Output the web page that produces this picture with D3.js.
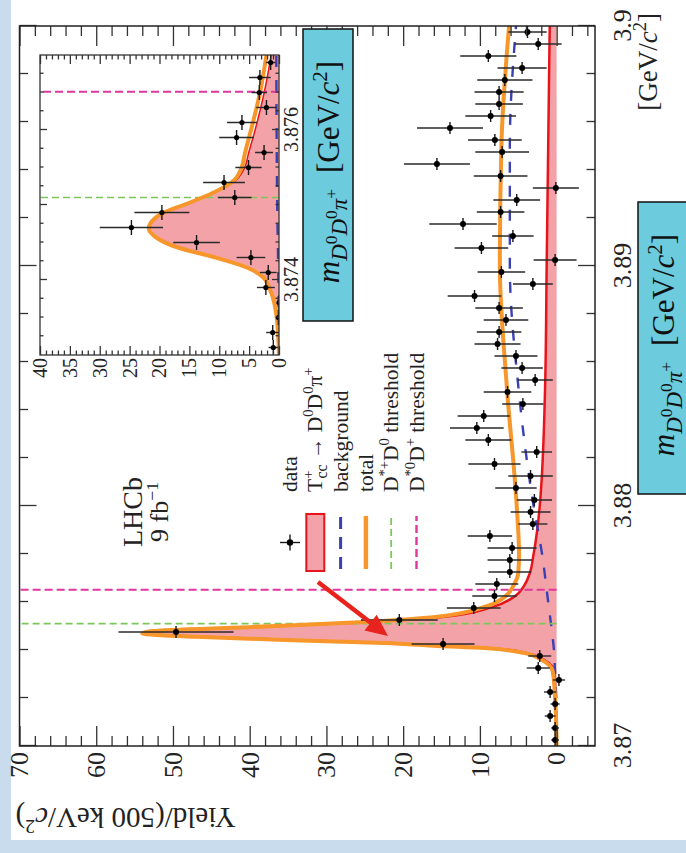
<!DOCTYPE html>
<html>
<head>
<meta charset="utf-8">
<script src="https://cdn.jsdelivr.net/npm/d3@7"></script>
<style>
  html, body { margin: 0; padding: 0; background: #c9dcee; }
  svg { display: block; }
</style>
</head>
<body>
<div id="chart"></div>
<script>
  // main histogram: 500 keV bins from 3.870 GeV
  var binLow = 3.870;
  var binWidth = 0.0005;
  var yieldValues = [0.2, 0.2, 0.85, 0.2, 0.85, -0.3, 2.4, 2.2, 14.8, 49.6,
    20.5, 10.8, 8.1, 7.8, 6.1, 6.1, 5.8, 8.7, 3.1, 3.4,
    2.9, 5.3, 3.4, 8.1, 2.6, 8.9, 10.4, 9.5, 4.4, 6.4,
    2.8, 4.5, 5.3, 7.7, 7.5, 6.6, 7.5, 10.7, 3.1, 7.2,
    0.2, 9.8, 5.7, 12.2, 7.3, 5.2, 0.1, 7.3, 15.6, 7.1,
    8.05, 13.9, 8.6, 7.5, 7.5, 6.75, 4.5, 8.9, 2.4, 3.8];
  var yieldErrors = [0.5, 0.5, 0.7, 0.6, 0.8, 0.8, 1.5, 1.5, 4.1, 7.5,
    5.0, 3.5, 2.9, 2.8, 2.8, 2.9, 3.2, 2.9, 1.9, 2.6,
    2.3, 2.7, 2.9, 3.4, 2.0, 3.0, 3.5, 3.4, 2.7, 3.1,
    2.3, 2.7, 2.8, 3.0, 2.9, 2.9, 3.1, 3.5, 2.6, 3.1,
    2.8, 3.5, 2.7, 4.4, 3.1, 3.05, 3.0, 3.5, 4.3, 3.5,
    3.5, 4.3, 3.3, 3.1, 3.2, 3.6, 3.2, 3.66, 3.05, 2.5];

  // fit curves (main panel)
  var fitMass = [3.8700, 3.8720, 3.8731, 3.87358, 3.87388, 3.87408, 3.87417, 3.87429, 3.87442, 3.87455,
    3.87469, 3.87479, 3.87496, 3.87517, 3.87539, 3.87579, 3.8762, 3.8767, 3.8772, 3.8780,
    3.8800, 3.8850, 3.8900, 3.8950, 3.9000];
  var totalFit = [0, 0.2, 0.5, 1.9, 4.3, 9.4, 15.5, 22.4, 35.4, 47,
    54, 52.7, 39.7, 25, 15.5, 9.4, 6.8, 5.6, 5.0, 4.9,
    5.2, 6.5, 7.4, 7.2, 6.2];
  var signalFit = [0, 0.15, 0.3, 1.6, 4.0, 9.0, 15.1, 22.0, 35.0, 46.5,
    53.5, 52.2, 39.1, 24.2, 14.6, 8.4, 5.6, 4.2, 3.5, 3.0,
    2.2, 1.5, 1.3, 1.1, 0.9];
  var bkgMass = [3.870, 3.872, 3.873, 3.874, 3.875, 3.876, 3.878, 3.880, 3.885, 3.890, 3.895, 3.900];
  var bkgFit = [0, 0.05, 0.2, 0.35, 0.7, 1.1, 1.9, 3.0, 5.0, 6.1, 6.1, 5.3];

  // inset: 200 keV bins from 3.873 GeV
  var insetLow = 3.873;
  var insetBinWidth = 0.0002;
  var insetValues = [0.95, 1.05, 0.1, 0.0, 2.2, 1.8, 4.7, 13.8, 24.7, 19.6,
    7.4, 9.2, 5.1, 2.5, 7.1, 6.2, 2.1, 3.3, 3.2, 1.4];
  var insetErrors = [0.8, 1.1, 0.3, 0.3, 1.5, 1.4, 2.4, 3.9, 5.3, 4.6,
    2.8, 3.5, 2.2, 1.5, 2.9, 2.5, 1.7, 1.3, 1.8, 0.8];
  var insetFitMass = [3.8730, 3.87351, 3.87383, 3.87404, 3.87417, 3.87431, 3.87444, 3.87457, 3.87469, 3.87477,
    3.87489, 3.87503, 3.87516, 3.87531, 3.87549, 3.87569, 3.87609, 3.87649, 3.8770];
  var insetTotal = [0, 0.4, 1.3, 2.7, 5.5, 11.1, 17.2, 20.6, 21.8, 21.4,
    19.5, 15.0, 11.1, 7.8, 6.3, 5.7, 4.4, 3.2, 2.1];
  var insetSignal = [0, 0.4, 1.25, 2.65, 5.45, 11.0, 17.1, 20.5, 21.7, 21.3,
    19.4, 14.9, 10.9, 7.5, 5.8, 5.1, 3.7, 2.5, 1.3];
  var insetBkgMass = [3.873, 3.874, 3.875, 3.876, 3.877];
  var insetBkg = [0, 0.1, 0.3, 0.4, 0.45];

  // D*+D0 and D*0D+ thresholds
  var thresholds = [3.87510, 3.87651];

  var massTicks = [3.87, 3.88, 3.89, 3.90];
  var massTickLabels = ['3.87', '3.88', '3.89', '3.9'];
  var yieldTicks = [0, 10, 20, 30, 40, 50, 60, 70];
  var insetMassTicks = [3.874, 3.876];
  var insetMassLabels = ['3.874', '3.876'];
  var insetYieldTicks = [0, 5, 10, 15, 20, 25, 30, 35, 40];

  var serif = '"Liberation Serif", "Times New Roman", "DejaVu Serif", serif';
  var colFill = '#f3a3a8', colSig = '#e8141c', colTot = '#f7962a',
      colBkg = '#3a40b4', colGreen = '#7cc75a', colMag = '#e0369e', colBox = '#6ccbdc';

  var W = 686, H = 853;
  var svg = d3.select('#chart').append('svg').attr('width', W).attr('height', H);

  svg.append('rect').attr('width', W).attr('height', H).attr('fill', '#c9dcee');
  svg.append('rect').attr('x', 11).attr('y', 0).attr('width', 675).attr('height', 840).attr('fill', '#fff');

  // the whole plot is drawn unrotated and turned 90 degrees counter-clockwise
  var plotW = 720, plotH = 575.5;
  var g = svg.append('g')
    .attr('transform', 'translate(19.5,746) rotate(-90)')
    .attr('font-family', serif);

  var x = d3.scaleLinear().domain([3.87, 3.90]).range([0, plotW]);
  var y = d3.scaleLinear().domain([-5, 70]).range([plotH, 0]);

  var defs = svg.append('defs');
  defs.append('clipPath').attr('id', 'clipMain')
    .append('rect').attr('width', plotW).attr('height', plotH);

  /**
   * Texto com índices: cada parte é [texto, 'sup'|'sub'|'subsup'|null, itálico, dx].
   */
  function richText(sel, parts, size) {
    parts.forEach(function (p) {
      var t = sel.append('tspan').text(p[0]);
      if (p[1] === 'sup') t.attr('font-size', size * 0.68).attr('baseline-shift', (size * 0.4) + 'px');
      if (p[1] === 'sub') t.attr('font-size', size * 0.74).attr('baseline-shift', (-size * 0.25) + 'px');
      if (p[1] === 'subsup') t.attr('font-size', size * 0.56).attr('baseline-shift', (size * 0.08) + 'px');
      if (p[2]) t.attr('font-style', 'italic');
      if (p[3]) t.attr('dx', p[3]);
    });
  }

  function bins(low, width, vals, errs) {
    return vals.map(function (v, i) {
      return { m: low + (i + 0.5) * width, v: v, e: errs[i] };
    });
  }

  function curvePts(ms, vs) {
    return ms.map(function (m, i) { return [m, vs[i]]; });
  }

  function drawPoints(parent, xs, ys, data, halfBin, r) {
    var pts = parent.append('g').selectAll('g').data(data).enter().append('g');
    pts.append('line')
      .attr('x1', function (d) { return xs(d.m - halfBin); })
      .attr('x2', function (d) { return xs(d.m + halfBin); })
      .attr('y1', function (d) { return ys(d.v); })
      .attr('y2', function (d) { return ys(d.v); })
      .attr('stroke', '#1a1a1a').attr('stroke-width', 1.4);
    pts.append('line')
      .attr('x1', function (d) { return xs(d.m); })
      .attr('x2', function (d) { return xs(d.m); })
      .attr('y1', function (d) { return ys(d.v - d.e); })
      .attr('y2', function (d) { return ys(d.v + d.e); })
      .attr('stroke', '#2a2a2a').attr('stroke-width', 1.4);
    pts.append('circle')
      .attr('cx', function (d) { return xs(d.m); })
      .attr('cy', function (d) { return ys(d.v); })
      .attr('r', r).attr('fill', '#000');
  }

  function drawFits(parent, xs, ys, o) {
    var area = d3.area().x(function (d) { return xs(d[0]); })
      .y0(ys(0)).y1(function (d) { return ys(d[1]); }).curve(d3.curveMonotoneX);
    var line = d3.line().x(function (d) { return xs(d[0]); })
      .y(function (d) { return ys(d[1]); }).curve(d3.curveMonotoneX);

    parent.append('path').datum(o.sig).attr('d', area).attr('fill', colFill);
    parent.append('path').datum(o.sig).attr('d', line)
      .attr('fill', 'none').attr('stroke', colSig).attr('stroke-width', o.sigW);
    parent.append('path').datum(o.bkg).attr('d', line)
      .attr('fill', 'none').attr('stroke', colBkg).attr('stroke-width', 2.4)
      .attr('stroke-dasharray', '11,13');

    parent.selectAll('.thr').data(thresholds).enter().append('line')
      .attr('x1', function (d) { return xs(d); })
      .attr('x2', function (d) { return xs(d); })
      .attr('y1', ys(0)).attr('y2', ys(o.top))
      .attr('stroke', function (d, i) { return i === 0 ? colGreen : colMag; })
      .attr('stroke-width', function (d, i) { return i === 0 ? 1.6 : 2; })
      .attr('stroke-dasharray', function (d, i) { return i === 0 ? '7,4' : '8,4'; });

    parent.append('path').datum(o.tot).attr('d', line)
      .attr('fill', 'none').attr('stroke', colTot).attr('stroke-width', 4)
      .attr('stroke-linejoin', 'round');
  }

  function styleAxis(sel, size) {
    sel.select('.domain').remove();
    sel.selectAll('line').attr('stroke', '#333').attr('stroke-width', 1.3);
    sel.selectAll('text').attr('fill', '#222').attr('font-size', size).attr('font-family', serif);
  }

  // main panel contents
  var main = g.append('g').attr('clip-path', 'url(#clipMain)');
  drawFits(main, x, y, {
    sig: curvePts(fitMass, signalFit),
    tot: curvePts(fitMass, totalFit),
    bkg: curvePts(bkgMass, bkgFit),
    top: 70, sigW: 2.5
  });
  drawPoints(main, x, y, bins(binLow, binWidth, yieldValues, yieldErrors), binWidth / 2, 3);

  // main axes, ticks inward on all four sides
  var massMinor = d3.range(1, 15).filter(function (i) { return i % 5 !== 0; })
    .map(function (i) { return 3.87 + i * 0.002; });
  var yieldMinor = d3.range(-4, 70, 2).filter(function (v) { return v % 10 !== 0; });

  g.append('g').attr('transform', 'translate(0,' + plotH + ')')
    .call(d3.axisBottom(x).tickValues(massTicks).tickSize(-17).tickPadding(17.5)
      .tickFormat(function (d, i) { return massTickLabels[i]; }))
    .call(styleAxis, 26);
  g.append('g').attr('transform', 'translate(0,' + plotH + ')')
    .call(d3.axisBottom(x).tickValues(massMinor).tickSize(-8.5).tickFormat(''))
    .call(styleAxis, 26);
  g.append('g')
    .call(d3.axisTop(x).tickValues(massTicks).tickSize(-17).tickFormat(''))
    .call(styleAxis, 26);
  g.append('g')
    .call(d3.axisTop(x).tickValues(massMinor).tickSize(-8.5).tickFormat(''))
    .call(styleAxis, 26);
  g.append('g')
    .call(d3.axisLeft(y).tickValues(yieldTicks).tickSize(-20).tickPadding(6))
    .call(styleAxis, 26);
  g.append('g')
    .call(d3.axisLeft(y).tickValues(yieldMinor).tickSize(-10).tickFormat(''))
    .call(styleAxis, 26);
  g.append('g').attr('transform', 'translate(' + plotW + ',0)')
    .call(d3.axisRight(y).tickValues(yieldTicks).tickSize(-20).tickFormat(''))
    .call(styleAxis, 26);
  g.append('g').attr('transform', 'translate(' + plotW + ',0)')
    .call(d3.axisRight(y).tickValues(yieldMinor).tickSize(-10).tickFormat(''))
    .call(styleAxis, 26);

  g.append('rect').attr('width', plotW).attr('height', plotH)
    .attr('fill', 'none').attr('stroke', '#222').attr('stroke-width', 1.5);

  // axis titles
  var yTitle = g.append('text')
    .attr('transform', 'translate(-62,-4) rotate(-90)')
    .attr('text-anchor', 'end').attr('font-size', 29).attr('fill', '#222');
  richText(yTitle, [['Yield/(500 keV/'], ['c', null, true], ['2', 'sup'], [')']], 29);

  var xTitle = g.append('text')
    .attr('x', 733).attr('y', 637)
    .attr('text-anchor', 'end').attr('font-size', 27).attr('fill', '#222');
  richText(xTitle, [['[GeV/'], ['c', null, true], ['2', 'sup'], [']']], 27);

  // LHCb label
  g.append('text').attr('x', 234).attr('y', 122.5).attr('text-anchor', 'middle')
    .attr('font-size', 28).attr('fill', '#222').text('LHCb');
  var lumi = g.append('text').attr('x', 234).attr('y', 148.5).attr('text-anchor', 'middle')
    .attr('font-size', 26).attr('fill', '#222');
  richText(lumi, [['9 fb'], ['\u22121', 'sup']], 26);

  // legend
  var legendLabels = [
    [['data']],
    [['T'], ['+', 'sup'], ['cc', 'sub', false, -8], [' \u2192 D'], ['0', 'sup'], ['D'], ['0', 'sup'], ['\u03c0'], ['+', 'sup']],
    [['background']],
    [['total']],
    [['D'], ['*+', 'sup'], ['D'], ['0', 'sup'], [' threshold']],
    [['D'], ['*0', 'sup'], ['D'], ['+', 'sup'], [' threshold']]
  ];
  var legX0 = 174, legX1 = 233, legText = 254, legTop = 270.5, legStep = 25.3;
  var leg = g.append('g');
  legendLabels.forEach(function (parts, i) {
    var ry = legTop + i * legStep;
    var t = leg.append('text').attr('x', legText).attr('y', ry + 7)
      .attr('font-size', 21.5).attr('fill', '#222');
    richText(t, parts, 21.5);
    var cx = (legX0 + legX1) / 2;
    if (i === 0) {
      leg.append('line').attr('x1', cx - 8).attr('x2', cx + 8).attr('y1', ry).attr('y2', ry)
        .attr('stroke', '#1a1a1a').attr('stroke-width', 1.4);
      leg.append('line').attr('x1', cx).attr('x2', cx).attr('y1', ry - 10).attr('y2', ry + 10)
        .attr('stroke', '#1a1a1a').attr('stroke-width', 1.4);
      leg.append('circle').attr('cx', cx).attr('cy', ry).attr('r', 3.2).attr('fill', '#000');
    } else if (i === 1) {
      leg.append('rect').attr('x', legX0 + 1).attr('y', ry - 9).attr('width', legX1 - legX0 - 2).attr('height', 18)
        .attr('fill', colFill).attr('stroke', colSig).attr('stroke-width', 2);
    } else {
      var st = [null, null,
        { c: colBkg, w: 3, d: '12,8' },
        { c: colTot, w: 4.5, d: null },
        { c: colGreen, w: 1.8, d: '7,4' },
        { c: colMag, w: 2.4, d: '8,4' }][i];
      leg.append('line').attr('x1', legX0 + 3).attr('x2', legX1 - 3).attr('y1', ry).attr('y2', ry)
        .attr('stroke', st.c).attr('stroke-width', st.w).attr('stroke-dasharray', st.d);
    }
  });

  // inset
  var ix = d3.scaleLinear().domain([3.873, 3.877]).range([391, 691]);
  var iy = d3.scaleLinear().domain([0, 40]).range([259.5, 20.5]);
  defs.append('clipPath').attr('id', 'clipInset')
    .append('rect').attr('x', 391).attr('y', 20.5).attr('width', 300).attr('height', 239);

  var inset = g.append('g');
  inset.append('rect').attr('x', 391).attr('y', 20.5).attr('width', 300).attr('height', 239).attr('fill', '#fff');
  var insetIn = inset.append('g').attr('clip-path', 'url(#clipInset)');
  drawFits(insetIn, ix, iy, {
    sig: curvePts(insetFitMass, insetSignal),
    tot: curvePts(insetFitMass, insetTotal),
    bkg: curvePts(insetBkgMass, insetBkg),
    top: 40, sigW: 1.5
  });
  drawPoints(insetIn, ix, iy, bins(insetLow, insetBinWidth, insetValues, insetErrors), insetBinWidth / 2, 2.6);

  var insetMassMinor = d3.range(1, 16).filter(function (i) { return i % 4 !== 0; })
    .map(function (i) { return 3.873 + i * 0.00025; });
  var insetMassMajor = [3.874, 3.875, 3.876];
  var insetYieldMinor = d3.range(1, 40).filter(function (v) { return v % 5 !== 0; });

  inset.append('g').attr('transform', 'translate(0,259.5)')
    .call(d3.axisBottom(ix).tickValues(insetMassTicks).tickSize(-7).tickPadding(5)
      .tickFormat(function (d, i) { return insetMassLabels[i]; }))
    .call(styleAxis, 20);
  inset.append('g').attr('transform', 'translate(0,259.5)')
    .call(d3.axisBottom(ix).tickValues(insetMassMinor.concat([3.875])).tickSize(-3.5).tickFormat(''))
    .call(styleAxis, 20);
  inset.append('g').attr('transform', 'translate(0,20.5)')
    .call(d3.axisTop(ix).tickValues(insetMassMajor).tickSize(-7).tickFormat(''))
    .call(styleAxis, 20);
  inset.append('g').attr('transform', 'translate(0,20.5)')
    .call(d3.axisTop(ix).tickValues(insetMassMinor).tickSize(-3.5).tickFormat(''))
    .call(styleAxis, 20);
  inset.append('g').attr('transform', 'translate(391,0)')
    .call(d3.axisLeft(iy).tickValues(insetYieldTicks).tickSize(-9).tickPadding(3))
    .call(styleAxis, 20);
  inset.append('g').attr('transform', 'translate(391,0)')
    .call(d3.axisLeft(iy).tickValues(insetYieldMinor).tickSize(-4.5).tickFormat(''))
    .call(styleAxis, 20);
  inset.append('g').attr('transform', 'translate(691,0)')
    .call(d3.axisRight(iy).tickValues(insetYieldTicks).tickSize(-9).tickFormat(''))
    .call(styleAxis, 20);
  inset.append('g').attr('transform', 'translate(691,0)')
    .call(d3.axisRight(iy).tickValues(insetYieldMinor).tickSize(-4.5).tickFormat(''))
    .call(styleAxis, 20);
  inset.append('rect').attr('x', 391).attr('y', 20.5).attr('width', 300).attr('height', 239)
    .attr('fill', 'none').attr('stroke', '#333').attr('stroke-width', 1.3);

  // cyan label boxes pasted over the axis titles
  var boxTitle = [['m', null, true], ['D', 'sub', true], ['0', 'subsup'], ['D', 'sub', true], ['0', 'subsup'],
    ['\u03c0', 'sub', true], ['+', 'subsup'], ['[GeV/', null, false, 16], ['c', null, true], ['2', 'sup'], [']']];

  function drawBox(bx, by) {
    svg.append('rect').attr('x', bx).attr('y', by).attr('width', 50).attr('height', 292)
      .attr('fill', colBox).attr('stroke', '#111').attr('stroke-width', 1.5);
    var t = svg.append('text')
      .attr('transform', 'translate(' + (bx + 36) + ',' + (by + 143) + ') rotate(-90)')
      .attr('text-anchor', 'middle').attr('font-family', serif)
      .attr('font-size', 31).attr('fill', '#111');
    richText(t, boxTitle, 31);
  }
  drawBox(303, 29);
  drawBox(638, 202);

  // red arrow pointing at the peak
  var arrowFrom = [318, 582], arrowTo = [388, 636];
  var dx = arrowTo[0] - arrowFrom[0], dy = arrowTo[1] - arrowFrom[1];
  var len = Math.sqrt(dx * dx + dy * dy), ux = dx / len, uy = dy / len;
  var bx = arrowTo[0] - 22 * ux, by = arrowTo[1] - 22 * uy;
  svg.append('line').attr('x1', arrowFrom[0]).attr('y1', arrowFrom[1])
    .attr('x2', bx + 4 * ux).attr('y2', by + 4 * uy)
    .attr('stroke', '#e8231e').attr('stroke-width', 4.5);
  svg.append('path')
    .attr('d', 'M' + arrowTo[0] + ',' + arrowTo[1] +
      'L' + (bx - 10 * uy) + ',' + (by + 10 * ux) +
      'L' + (bx + 10 * uy) + ',' + (by - 10 * ux) + 'Z')
    .attr('fill', '#e8231e');
</script>
</body>
</html>
